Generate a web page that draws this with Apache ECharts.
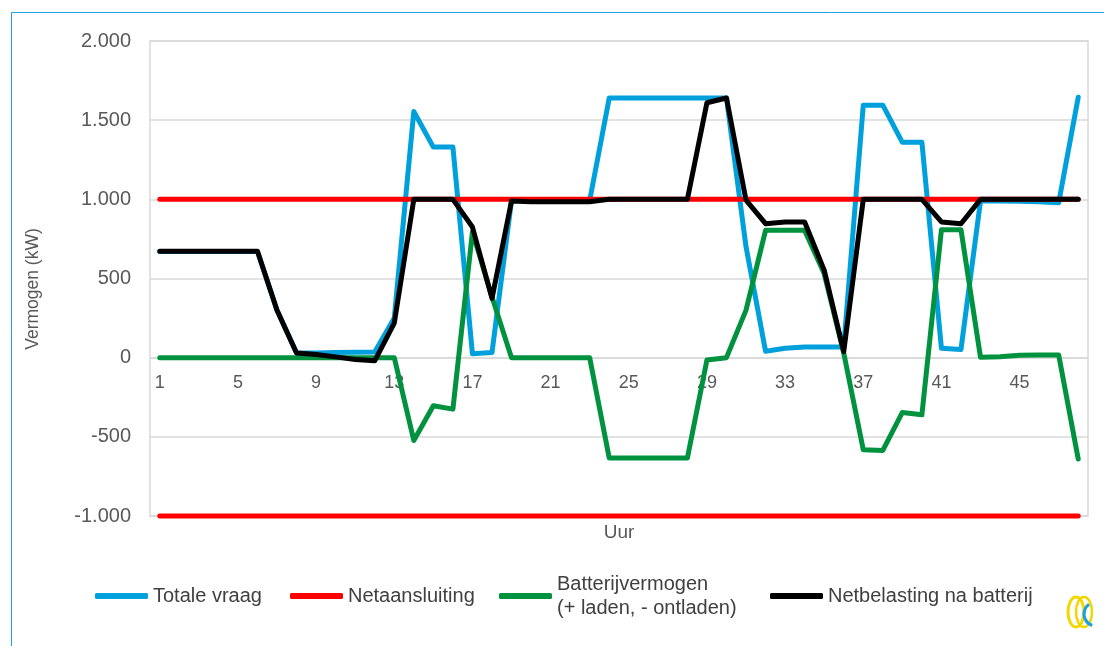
<!DOCTYPE html>
<html>
<head>
<meta charset="utf-8">
<script src="https://cdn.jsdelivr.net/npm/echarts@6/dist/echarts.min.js"></script>
<style>
html,body{margin:0;padding:0;background:#fff;}
#chart{width:1104px;height:646px;}
</style>
</head>
<body>
<div id="chart"></div>
<script>
// ---- data ----
var hours = [];
for (var h = 1; h <= 48; h++) hours.push(String(h));

var totaleVraag = [670,670,670,670,670,670,300,30,30,32,34,36,250,1555,1330,1330,25,32,993,993,993,993,993,1640,
                   1640,1640,1640,1640,1640,1640,700,40,60,68,68,68,1595,1595,1360,1360,60,52,990,990,988,985,978,1645];
var netaansluitingPos = [1000,1000,1000,1000,1000,1000,1000,1000,1000,1000,1000,1000,1000,1000,1000,1000,1000,1000,1000,1000,1000,1000,1000,1000,
                         1000,1000,1000,1000,1000,1000,1000,1000,1000,1000,1000,1000,1000,1000,1000,1000,1000,1000,1000,1000,1000,1000,1000,1000];
var netaansluitingNeg = [-1000,-1000,-1000,-1000,-1000,-1000,-1000,-1000,-1000,-1000,-1000,-1000,-1000,-1000,-1000,-1000,-1000,-1000,-1000,-1000,-1000,-1000,-1000,-1000,
                         -1000,-1000,-1000,-1000,-1000,-1000,-1000,-1000,-1000,-1000,-1000,-1000,-1000,-1000,-1000,-1000,-1000,-1000,-1000,-1000,-1000,-1000,-1000,-1000];
var batterij = [0,0,0,0,0,0,0,0,0,0,0,0,0,-523,-304,-325,794,384,0,0,0,0,0,-634,
                -634,-634,-634,-634,-15,0,300,804,804,804,531,30,-582,-586,-346,-361,808,808,2,6,15,17,17,-640];
var netbelasting = [672,672,672,672,672,672,300,30,20,5,-12,-20,218,1000,1000,1000,825,374,990,985,985,985,985,1000,
                    1000,1000,1000,1000,1610,1640,995,846,857,857,553,38,1000,1000,1000,1000,857,846,1000,1000,1000,1000,1000,1000];

var yTicks = {min: -1000, max: 2000, interval: 500};
var names = ['Totale vraag', 'Netaansluiting', 'Batterijvermogen', 'Netbelasting na batterij'];

var FONT = 'Liberation Sans';
var GRID = {left: 150, right: 16, top: 41, bottom: 130};
var plotH = 646 - GRID.top - GRID.bottom;
// x axis sits on the zero line
var zeroOffset = -plotH * (0 - yTicks.min) / (yTicks.max - yTicks.min);

function fmt(v){
  var s = Math.abs(v).toString();
  s = s.replace(/\B(?=(\d{3})+(?!\d))/g, '.');
  return (v < 0 ? '-' : '') + s;
}
function lineSeries(name, data, color){
  return {
    name: name, type: 'line', data: data, symbol: 'none', showSymbol: false, clip: false,
    lineStyle: {color: color, width: 5, cap: 'round', join: 'round'},
    itemStyle: {color: color},
    emphasis: {disabled: true}, animation: false
  };
}
function legendItem(name, left, top, extra){
  var l = {
    data: [name], left: left, top: top, orient: 'horizontal', padding: 0,
    icon: 'roundRect', itemWidth: 53, itemHeight: 6, itemGap: 0,
    textStyle: {fontFamily: FONT, fontSize: 20, color: '#404040', lineHeight: 24},
    selectedMode: false
  };
  if (extra) { for (var k in extra) l[k] = extra[k]; }
  return l;
}

var chart = echarts.init(document.getElementById('chart'), null, {renderer: 'canvas'});
chart.setOption({
  backgroundColor: '#ffffff',
  animation: false,
  grid: {left: GRID.left, right: GRID.right, top: GRID.top, bottom: GRID.bottom, show: true, borderColor: '#d9d9d9', borderWidth: 1.5, backgroundColor: 'transparent'},
  xAxis: {
    type: 'category', data: hours, boundaryGap: true, position: 'bottom', offset: zeroOffset,
    axisLine: {show: true, onZero: false, lineStyle: {color: '#d9d9d9', width: 1.5}},
    axisTick: {show: false},
    axisLabel: {interval: 3, fontFamily: FONT, fontSize: 18, color: '#595959', margin: 16},
    splitLine: {show: false}
  },
  yAxis: {
    type: 'value', min: yTicks.min, max: yTicks.max, interval: yTicks.interval,
    axisLine: {show: false}, axisTick: {show: false},
    axisLabel: {formatter: fmt, fontFamily: FONT, fontSize: 20, color: '#595959', margin: 19},
    splitLine: {lineStyle: {color: '#d9d9d9', width: 1.5}}
  },
  legend: [
    legendItem(names[0], 95, 584),
    legendItem(names[1], 290, 584),
    legendItem(names[2], 499, 560, {formatter: 'Batterijvermogen\n(+ laden, - ontladen)',
      textStyle: {fontFamily: FONT, fontSize: 20, color: '#404040', lineHeight: 24, padding: [24,0,0,0]}}),
    legendItem(names[3], 770, 584)
  ],
  graphic: [
    {type: 'rect', shape: {x: 11.5, y: 12.5, width: 1110, height: 660}, style: {fill: 'none', stroke: '#1ba1e2', lineWidth: 1}, silent: true},
    {type: 'text', x: 619, y: 533, style: {text: 'Uur', fontFamily: FONT, fontSize: 19, fill: '#595959', align: 'center', verticalAlign: 'middle'}, silent: true},
    {type: 'text', x: 33, y: 289, rotation: Math.PI / 2, style: {text: 'Vermogen (kW)', fontFamily: FONT, fontSize: 17.5, fill: '#595959', align: 'center', verticalAlign: 'middle'}, silent: true},
    {type: 'ellipse', shape: {cx: 1076, cy: 612, rx: 8, ry: 15}, style: {fill: 'none', stroke: '#f2d600', lineWidth: 3}, silent: true},
    {type: 'ellipse', shape: {cx: 1084, cy: 612, rx: 8, ry: 15}, style: {fill: 'none', stroke: '#f2d600', lineWidth: 2.5}, silent: true},
    {type: 'arc', shape: {cx: 1096, cy: 614, r: 12, startAngle: Math.PI * 0.6, endAngle: Math.PI * 1.3}, style: {fill: 'none', stroke: '#1ba1e2', lineWidth: 3}, silent: true}
  ],
  series: [
    lineSeries(names[0], totaleVraag, '#00a0dc'),
    lineSeries(names[1], netaansluitingPos, '#ff0000'),
    lineSeries(names[1], netaansluitingNeg, '#ff0000'),
    lineSeries(names[2], batterij, '#00923f'),
    lineSeries(names[3], netbelasting, '#000000')
  ]
});
</script>
</body>
</html>
